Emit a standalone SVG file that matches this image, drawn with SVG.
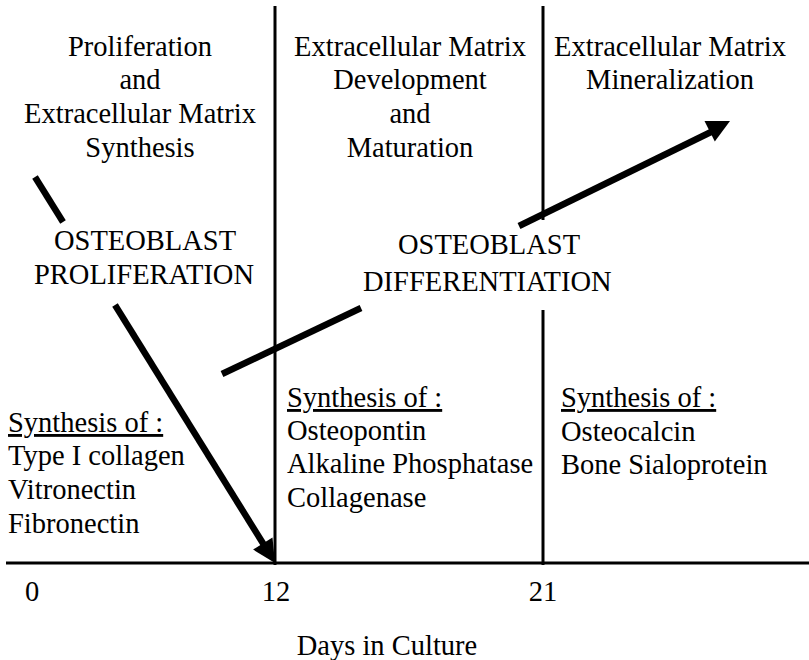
<svg xmlns="http://www.w3.org/2000/svg" width="809" height="660" viewBox="0 0 809 660" font-family="'Liberation Serif', 'DejaVu Serif', 'Times New Roman', Times, serif">
<style>
text{font-family:'Liberation Serif','DejaVu Serif','Times New Roman',Times,serif;font-size:28.5px;fill:#000}
.c{text-anchor:middle}
.u{text-decoration:underline}
.ax{stroke:#000;stroke-width:3;fill:none}
.ar{stroke:#000;stroke-width:6.5;fill:none}
.hd{fill:#000;stroke:none}
</style>
<rect width="809" height="660" fill="#fff"/>
<g id="axes">
<line class="ax" x1="6" y1="563" x2="809" y2="563"/>
<line class="ax" x1="275" y1="6" x2="275" y2="565"/>
<line class="ax" x1="543" y1="6" x2="543" y2="220"/>
<line class="ax" x1="543" y1="310" x2="543" y2="565"/>
</g>
<g id="connectors">
<line class="ar" x1="35" y1="177" x2="63" y2="222"/>
<line class="ar" x1="115" y1="305" x2="264" y2="545"/>
<polygon class="hd" points="275,563 272.5,537.4 253.1,549.6"/>
<line class="ar" x1="222" y1="374" x2="361" y2="308"/>
<line class="ar" x1="519" y1="226" x2="711" y2="132"/>
<polygon class="hd" points="730,121 704.5,121.1 714.8,141.5"/>
</g>
<g id="phase1">
<text class="c" x="140" y="56">Proliferation</text>
<text class="c" x="140" y="89">and</text>
<text class="c" x="140" y="123">Extracellular Matrix</text>
<text class="c" x="140" y="157">Synthesis</text>
</g>
<g id="phase2">
<text class="c" x="410" y="56">Extracellular Matrix</text>
<text class="c" x="410" y="89">Development</text>
<text class="c" x="410" y="123">and</text>
<text class="c" x="410" y="157">Maturation</text>
</g>
<g id="phase3">
<text class="c" x="670" y="56">Extracellular Matrix</text>
<text class="c" x="670" y="89">Mineralization</text>
</g>
<g id="proliferation-label">
<text class="c" x="145" y="250">OSTEOBLAST</text>
<text class="c" x="144" y="284">PROLIFERATION</text>
</g>
<g id="differentiation-label">
<text x="398" y="254">OSTEOBLAST</text>
<text x="363" y="291">DIFFERENTIATION</text>
</g>
<g id="synth1">
<text class="u" x="8" y="432">Synthesis of :</text>
<text x="8" y="465">Type I collagen</text>
<text x="8" y="499">Vitronectin</text>
<text x="8" y="533">Fibronectin</text>
</g>
<g id="synth2">
<text class="u" x="287" y="407">Synthesis of :</text>
<text x="287" y="440">Osteopontin</text>
<text x="287" y="473">Alkaline Phosphatase</text>
<text x="287" y="507">Collagenase</text>
</g>
<g id="synth3">
<text class="u" x="561" y="407">Synthesis of :</text>
<text x="561" y="441">Osteocalcin</text>
<text x="561" y="474">Bone Sialoprotein</text>
</g>
<g id="ticks">
<text class="c" x="32" y="601">0</text>
<text class="c" x="276" y="601">12</text>
<text class="c" x="543" y="601">21</text>
<text class="c" x="387" y="655">Days in Culture</text>
</g>
</svg>
